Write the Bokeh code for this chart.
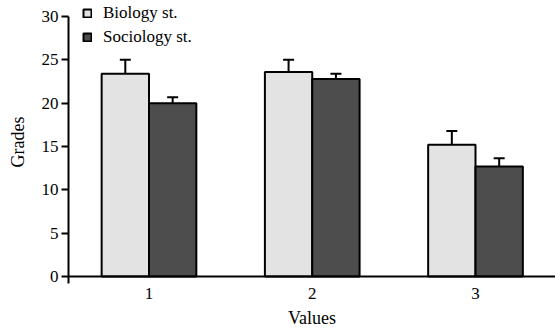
import numpy as np
from bokeh.plotting import figure
from bokeh.models import (ColumnDataSource, FixedTicker, Span, Whisker, TeeHead,
                          Legend, LegendItem, Range1d)
from bokeh.embed import file_html
from bokeh.resources import INLINE

categories = [1, 2, 3]
tick_labels = ["1", "2", "3"]
biology = [23.4, 23.6, 15.2]
biology_err = [1.6, 1.4, 1.6]
sociology = [20.0, 22.8, 12.7]
sociology_err = [0.7, 0.6, 0.95]

FONT = "Liberation Serif"
LIGHT = "#e3e3e3"
DARK = "#4d4d4d"
off = 0.145
bw = 0.29

x = np.array(categories, dtype=float)
src_b = ColumnDataSource(dict(x=x - off, top=biology,
                              up=np.array(biology) + np.array(biology_err)))
src_s = ColumnDataSource(dict(x=x + off, top=sociology,
                              up=np.array(sociology) + np.array(sociology_err)))

p = figure(width=555, height=330, output_backend="svg", toolbar_location=None,
           x_range=Range1d(0.507, 3.49), y_range=Range1d(-0.8, 31.85),
           min_border_left=68, min_border_right=0, min_border_top=0,
           min_border_bottom=47)
p.outline_line_color = None
p.xgrid.grid_line_color = None
p.ygrid.grid_line_color = None
p.background_fill_color = "white"

# error bars (upper only)
for src in (src_b, src_s):
    w = Whisker(source=src, base="x", upper="up", lower="top",
                upper_head=TeeHead(size=11, line_width=2, line_color="black"),
                lower_head=None, line_width=2, line_color="black")
    p.add_layout(w)

rb = p.vbar(x="x", top="top", width=bw, bottom=0, source=src_b,
            fill_color=LIGHT, line_color="black", line_width=2)
rs = p.vbar(x="x", top="top", width=bw, bottom=0, source=src_s,
            fill_color=DARK, line_color="black", line_width=2)

p.add_layout(Span(location=0, dimension="width", line_color="black", line_width=2))

# axes
p.xaxis.ticker = FixedTicker(ticks=categories)
p.xaxis.major_label_overrides = {c: l for c, l in zip(categories, tick_labels)}
p.xaxis.axis_line_color = None
p.xaxis.major_tick_line_color = None
p.xaxis.minor_tick_line_color = None
p.xaxis.major_tick_out = 0
p.xaxis.major_label_standoff = 4
p.xaxis.axis_label = "Values"
p.xaxis.axis_label_standoff = 6

p.yaxis.ticker = FixedTicker(ticks=[0, 5, 10, 15, 20, 25, 30])
p.yaxis.bounds = (-0.8, 30)
p.yaxis.axis_line_width = 2
p.yaxis.major_tick_line_width = 2
p.yaxis.major_tick_out = 7
p.yaxis.major_tick_in = 0
p.yaxis.minor_tick_line_color = None
p.yaxis.major_label_standoff = 3
p.yaxis.axis_label = "Grades"
p.yaxis.axis_label_standoff = 11

for ax in (p.xaxis, p.yaxis):
    ax.major_label_text_font = FONT
    ax.major_label_text_font_size = "17px"
    ax.major_label_text_color = "black"
    ax.axis_label_text_font = FONT
    ax.axis_label_text_font_size = "18px"
    ax.axis_label_text_font_style = "normal"
    ax.axis_label_text_color = "black"

legend = Legend(items=[LegendItem(label="Biology st.", renderers=[rb]),
                       LegendItem(label="Sociology st.", renderers=[rs])],
                location=(14, 236), orientation="vertical")
legend.border_line_color = None
legend.background_fill_alpha = 0
legend.padding = 0
legend.margin = 0
legend.spacing = 4
legend.label_height = 18
legend.glyph_width = 10
legend.glyph_height = 10
legend.label_standoff = 11
legend.label_text_font = FONT
legend.label_text_font_size = "17px"
legend.label_text_color = "black"
legend.label_text_baseline = "middle"
p.add_layout(legend)

open("out.html", "w").write(file_html(p, INLINE))
